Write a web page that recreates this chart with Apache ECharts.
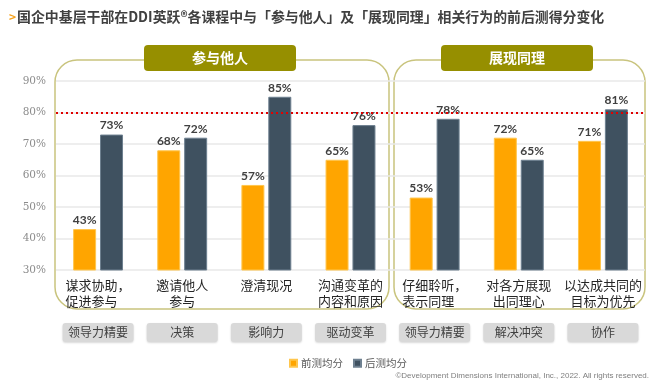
<!DOCTYPE html>
<html><head><meta charset="utf-8">
<script src="https://cdn.jsdelivr.net/npm/echarts@6/dist/echarts.min.js"></script>
<style>html,body{margin:0;padding:0;background:#fff}#c{width:664px;height:385px}</style>
</head><body><div id="c"></div>
<script>
const categories = ['谋求协助，\n促进参与　', '邀请他人\n参与', '澄清现况', '沟通变革的\n内容和原因', '仔细聆听，\n表示同理　', '对各方展现\n出同理心', '以达成共同的\n目标为优先'];
const competencies = ['领导力精要', '决策', '影响力', '驱动变革', '领导力精要', '解决冲突', '协作'];
const groups = ['参与他人', '展现同理'];
const preScores = [43, 68, 57, 65, 53, 72, 71];
const postScores = [73, 72, 85, 76, 78, 65, 81];
const seriesNames = ['前测均分', '后测均分'];
const targetLine = 80;
const yTicks = {min: 30, max: 90, interval: 10};

const CJK = '"Noto Sans CJK SC", "Noto Sans", sans-serif';
const chart = echarts.init(document.getElementById('c'), null, {renderer: 'canvas'});

const labelStyle = {
  show: true, position: 'top', distance: 3, formatter: '{c}%',
  fontFamily: 'Lato, "Liberation Sans", sans-serif', fontSize: 12, fontWeight: 'bold', color: '#404040'
};

chart.setOption({
  animation: false,
  title: {
    left: 4, top: 5,
    text: '{a|>}{b|国企中基层干部在DDI英跃®各课程中与「参与他人」及「展现同理」相关行为的前后测得分变化}',
    textStyle: {
      rich: {
        a: {color: '#F7A21B', fontSize: 12, fontWeight: 'bold', fontFamily: CJK, padding: [0, 1, 0, 0]},
        b: {color: '#404040', fontSize: 13.9, fontWeight: 'bold', fontFamily: CJK}
      }
    }
  },
  graphic: [
    {type: 'rect', shape: {x: 55, y: 60, width: 334, height: 249, r: 22}, style: {fill: 'none', stroke: '#C9C47E', lineWidth: 1.5}, z: 0},
    {type: 'rect', shape: {x: 394, y: 60, width: 251, height: 249, r: 22}, style: {fill: 'none', stroke: '#C9C47E', lineWidth: 1.5}, z: 0},
    {type: 'rect', shape: {x: 144, y: 45, width: 152, height: 26, r: 4}, style: {fill: '#968F00'}, z: 10},
    {type: 'text', x: 220, y: 58, style: {text: groups[0], fill: '#fff', font: 'bold 14px ' + CJK, align: 'center', verticalAlign: 'middle'}, z: 11},
    {type: 'rect', shape: {x: 441, y: 45, width: 152, height: 26, r: 4}, style: {fill: '#968F00'}, z: 10},
    {type: 'text', x: 517, y: 58, style: {text: groups[1], fill: '#fff', font: 'bold 14px ' + CJK, align: 'center', verticalAlign: 'middle'}, z: 11},
    {type: 'text', x: 649, y: 376, style: {text: '©Development Dimensions International, Inc., 2022. All rights reserved.', fill: '#7F7F7F', font: '8px "Liberation Sans", Arial, sans-serif', align: 'right', verticalAlign: 'middle'}}
  ],
  legend: {
    left: 284, top: 353, itemWidth: 7, itemHeight: 7, itemGap: 10, icon: 'rect',
    textStyle: {fontSize: 10.5, color: '#595959', fontFamily: CJK, padding: [0, 0, 0, -1]},
    data: seriesNames
  },
  grid: {left: 56, right: 19, top: 81, bottom: 115},
  xAxis: [
    {
      type: 'category', data: categories, position: 'bottom',
      axisLine: {show: false}, axisTick: {show: false},
      axisLabel: {interval: 0, margin: 7, fontSize: 13, lineHeight: 16, color: '#262626', fontFamily: CJK}
    },
    {
      type: 'category', data: competencies, position: 'bottom',
      axisLine: {show: false}, axisTick: {show: false},
      axisLabel: {
        interval: 0, margin: 53, fontSize: 12, color: '#404040', fontFamily: CJK,
        backgroundColor: '#D9D9D9', width: 71, height: 19, lineHeight: 19, align: 'center', borderRadius: 3,
        shadowColor: 'rgba(0,0,0,0.15)', shadowBlur: 2, shadowOffsetY: 1
      }
    }
  ],
  yAxis: {
    type: 'value', min: yTicks.min, max: yTicks.max, interval: yTicks.interval,
    axisLine: {show: false}, axisTick: {show: false},
    axisLabel: {formatter: '{value}%', fontSize: 10.5, color: '#8C8C8C', margin: 10, fontFamily: '"DejaVu Serif", serif'},
    splitLine: {lineStyle: {color: '#E8E8E8', width: 1.5}}
  },
  series: [
    {
      name: seriesNames[0], type: 'bar', data: preScores, barWidth: 23, barGap: '17%',
      itemStyle: {color: '#FFA500', borderColor: '#FFC64D', borderWidth: 1},
      label: labelStyle, z: 3
    },
    {
      name: seriesNames[1], type: 'bar', data: postScores, barWidth: 23,
      itemStyle: {color: '#3F5160', borderColor: '#6E8090', borderWidth: 1},
      label: labelStyle, z: 3,
      markLine: {
        silent: true, symbol: 'none', label: {show: false}, z: 5,
        lineStyle: {color: '#E00000', type: [2, 3], width: 2},
        data: [{yAxis: targetLine}]
      }
    }
  ]
});
</script>
</body></html>
